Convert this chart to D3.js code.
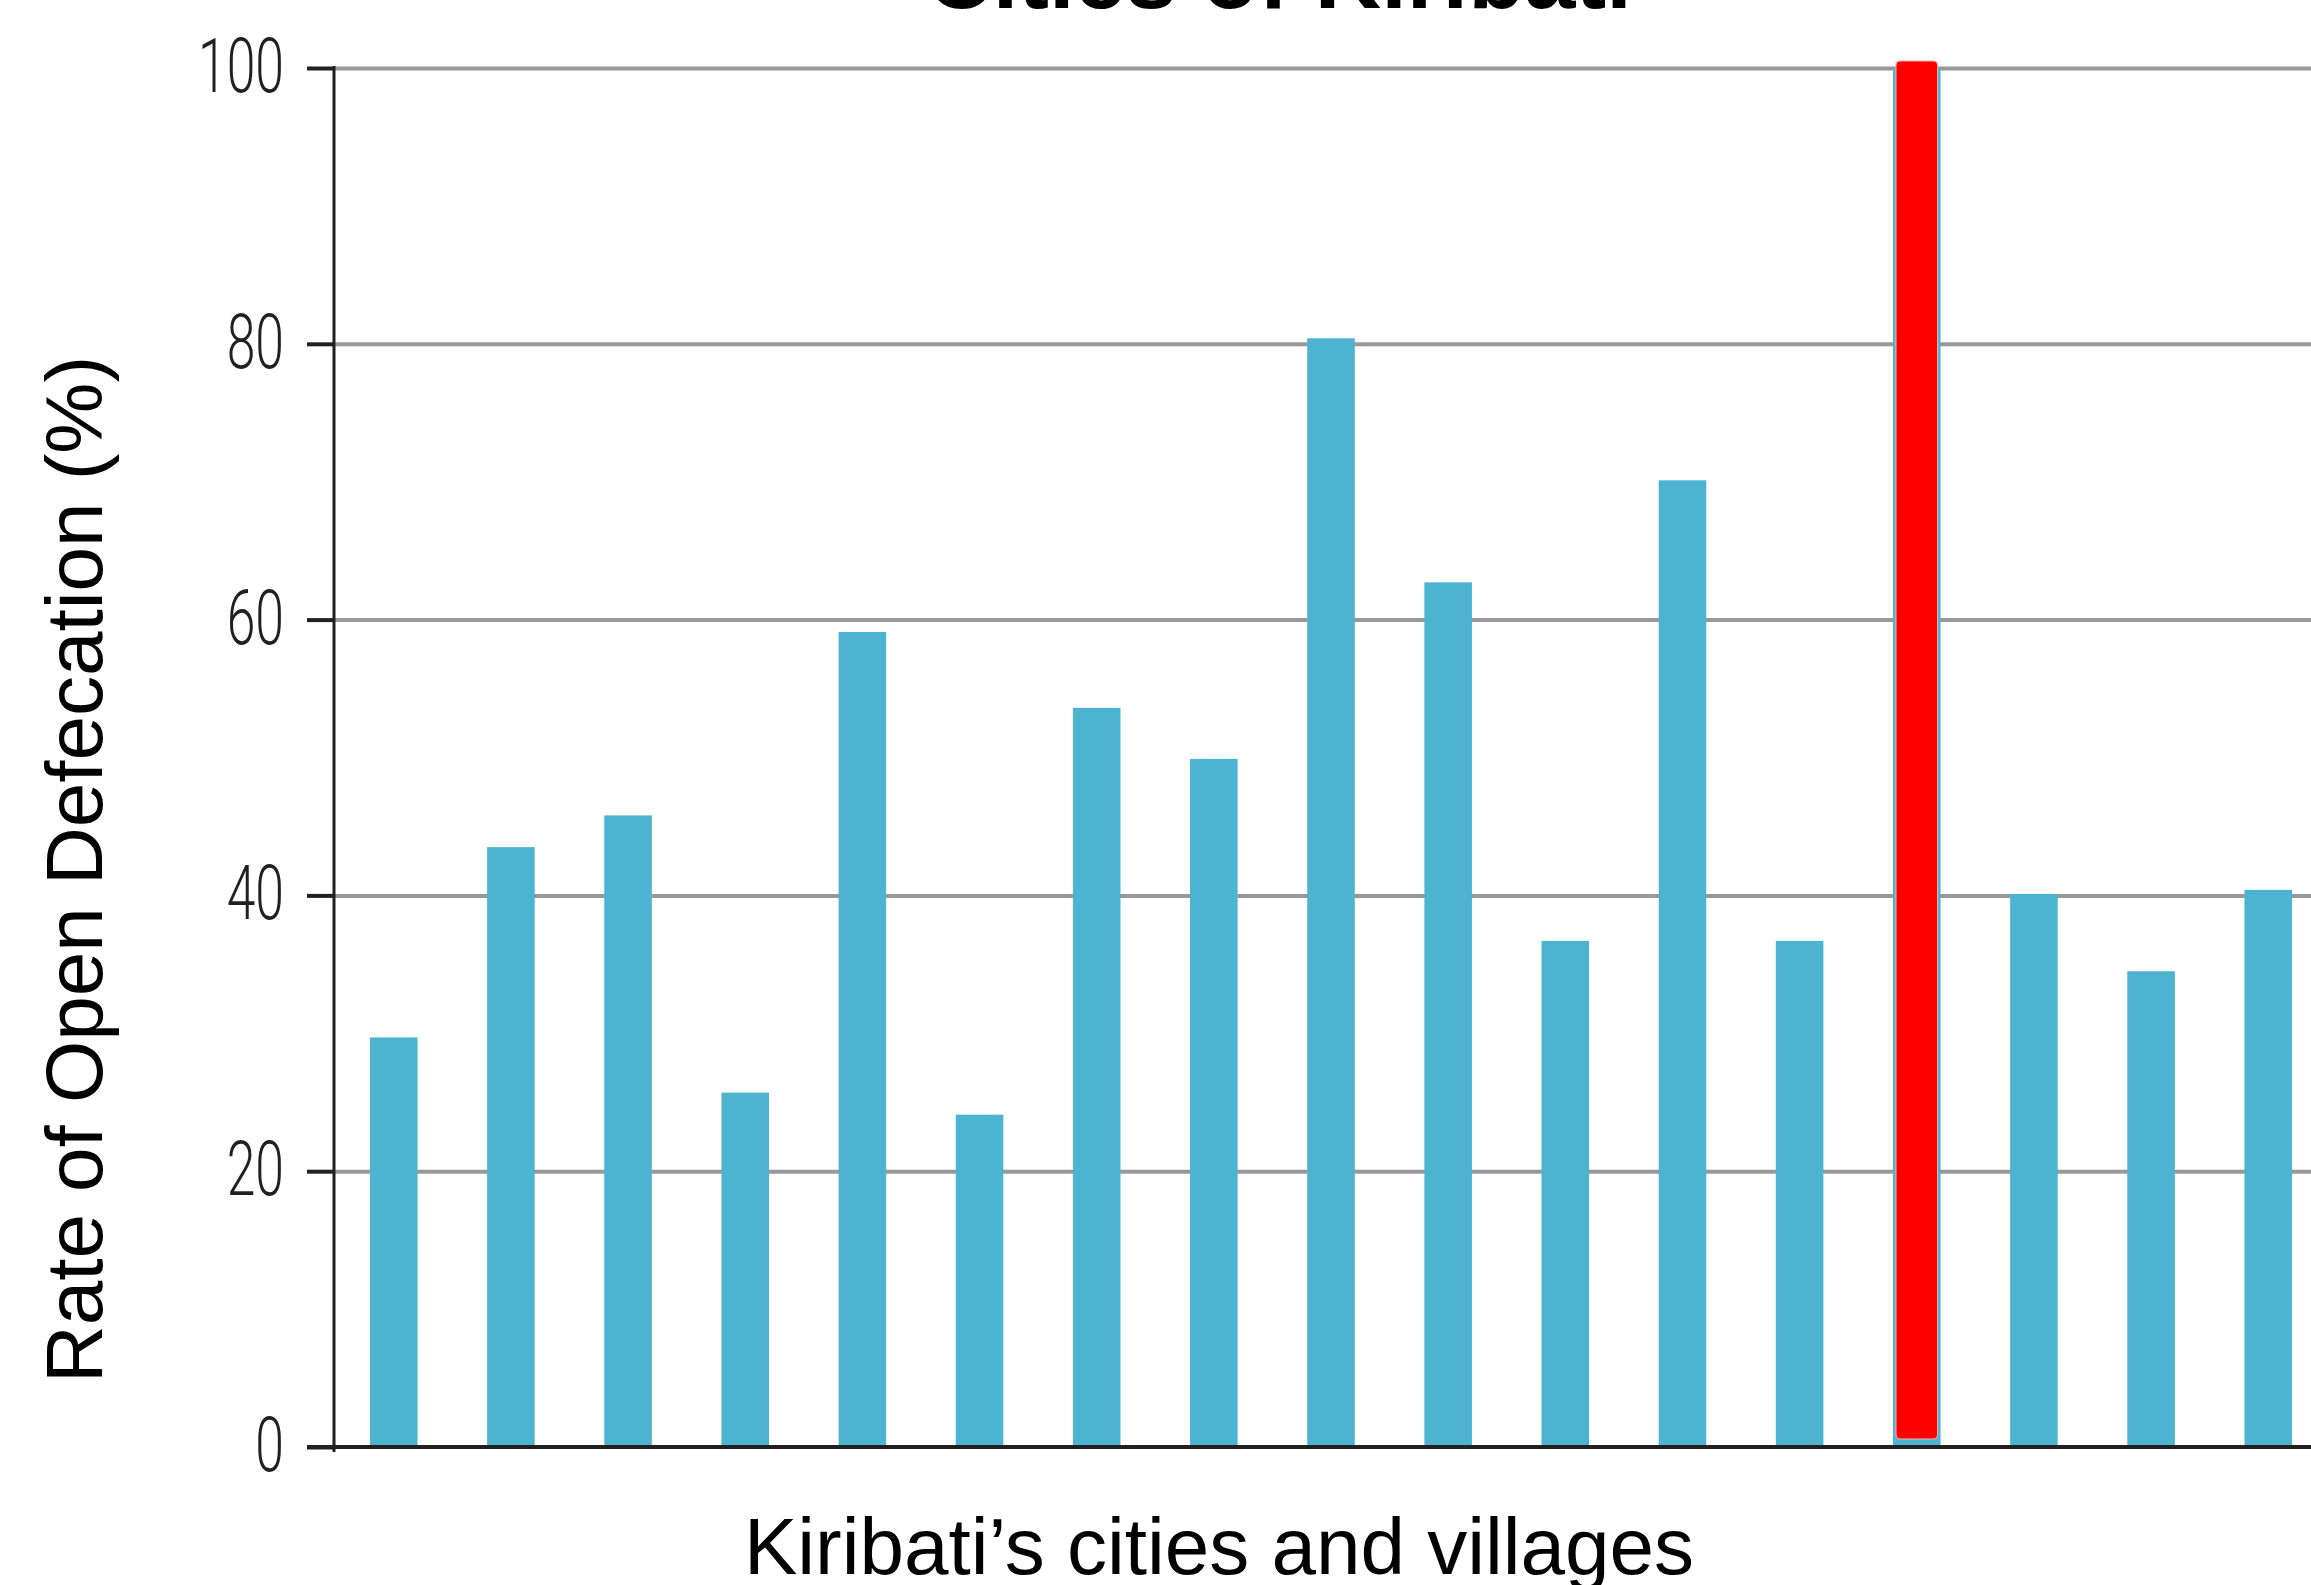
<!DOCTYPE html>
<html>
<head>
<meta charset="utf-8">
<script src="https://cdn.jsdelivr.net/npm/d3@7"></script>
<style>
    html, body { margin: 0; padding: 0; background: #ffffff; }
    svg { display: block; }
    .axis-title { font-family: 'Liberation Sans', Arial, sans-serif; fill: #000000; }
    .tick-label { font-family: Roboto, 'DejaVu Sans', sans-serif; font-weight: 300; fill: #231f20; }
</style>
</head>
<body>
<div id="chart"></div>
<script>
// Rate of open defecation per site (sites are not named in the original)
const sites = ['S01', 'S02', 'S03', 'S04', 'S05', 'S06', 'S07', 'S08', 'S09', 'S10', 'S11', 'S12', 'S13', 'S14', 'S15', 'S16', 'S17'];
const rates = [29.7, 43.5, 45.8, 25.7, 59.1, 24.1, 53.6, 49.9, 80.4, 62.7, 36.7, 70.1, 36.7, 100, 40.1, 34.5, 40.4];
const highlightedSites = ['S14'];
const yTicks = [0, 20, 40, 60, 80, 100];

const titleText = 'Cities of Kiribati';
const xTitle = 'Kiribati\u2019s cities and villages';
const yTitle = 'Rate of Open Defecation (%)';

const width = 2311;
const height = 1585;
const margin = { top: 68, right: 0, bottom: 138, left: 334 };

const barColor = '#4cb3d1';
const gridColor = '#98989c';
const axisColor = '#231f20';

const data = sites.map((site, index) => ({ site, rate: rates[index] }));

const svg = d3.select('#chart').append('svg')
    .attr('width', width)
    .attr('height', height);

const yScale = d3.scaleLinear()
    .domain([0, 100])
    .range([height - margin.bottom, margin.top]);

const xScale = d3.scaleBand()
    .domain(sites)
    .range([margin.left, margin.left + 1994])
    .paddingInner(0.594)
    .paddingOuter(0.307);

// grid lines
svg.append('g')
    .attr('transform', `translate(${margin.left},0)`)
    .call(d3.axisLeft(yScale).tickValues(yTicks.slice(1)).tickSize(-(width - margin.left)).tickFormat(''))
    .call((group) => group.select('.domain').remove())
    .call((group) => group.selectAll('line').attr('stroke', gridColor).attr('stroke-width', 4));

// bars
svg.selectAll('.bar')
    .data(data)
    .enter()
    .append('rect')
    .attr('class', 'bar')
    .attr('x', (datum) => xScale(datum.site))
    .attr('y', (datum) => yScale(datum.rate))
    .attr('width', xScale.bandwidth())
    .attr('height', (datum) => yScale(0) - yScale(datum.rate))
    .attr('fill', barColor);

// red highlight drawn over the highlighted bar
svg.selectAll('.highlight')
    .data(data.filter((datum) => highlightedSites.includes(datum.site)))
    .enter()
    .append('rect')
    .attr('class', 'highlight')
    .attr('x', (datum) => xScale(datum.site) + 3)
    .attr('y', (datum) => yScale(datum.rate) - 7)
    .attr('width', xScale.bandwidth() - 6)
    .attr('height', (datum) => yScale(0) - yScale(datum.rate) - 1)
    .attr('rx', 4)
    .attr('fill', '#ff0000')
    .attr('stroke', '#f7b0b0')
    .attr('stroke-width', 1);

// baseline
svg.append('line')
    .attr('x1', margin.left - 27)
    .attr('x2', width)
    .attr('y1', yScale(0))
    .attr('y2', yScale(0))
    .attr('stroke', axisColor)
    .attr('stroke-width', 4);

// y axis with ticks
svg.append('g')
    .attr('transform', `translate(${margin.left},0)`)
    .call(d3.axisLeft(yScale).tickValues(yTicks).tickSize(27).tickSizeOuter(0).tickFormat(''))
    .call((group) => group.select('.domain')
        .attr('d', `M0,${yScale(100) - 2}V${yScale(0) + 5}`)
        .attr('stroke', axisColor)
        .attr('stroke-width', 3))
    .call((group) => group.selectAll('line').attr('stroke', axisColor).attr('stroke-width', 4));

svg.selectAll('.tick-label')
    .data(yTicks)
    .enter()
    .append('text')
    .attr('class', 'tick-label')
    .attr('transform', (tick) => `translate(${margin.left - 50},${yScale(tick) + 24}) scale(0.68,1)`)
    .attr('text-anchor', 'end')
    .attr('font-size', 76)
    .text((tick) => tick);

// titles
svg.append('text')
    .attr('class', 'axis-title')
    .attr('x', 1279)
    .attr('y', 8)
    .attr('text-anchor', 'middle')
    .attr('font-size', 92)
    .attr('font-weight', 'bold')
    .text(titleText);

svg.append('text')
    .attr('class', 'axis-title')
    .attr('x', 1219)
    .attr('y', 1574)
    .attr('text-anchor', 'middle')
    .attr('font-size', 80)
    .text(xTitle);

svg.append('text')
    .attr('class', 'axis-title')
    .attr('transform', `translate(102,${(yScale(0) + yScale(100)) / 2 + 112}) rotate(-90)`)
    .attr('text-anchor', 'middle')
    .attr('font-size', 80)
    .text(yTitle);
</script>
</body>
</html>
